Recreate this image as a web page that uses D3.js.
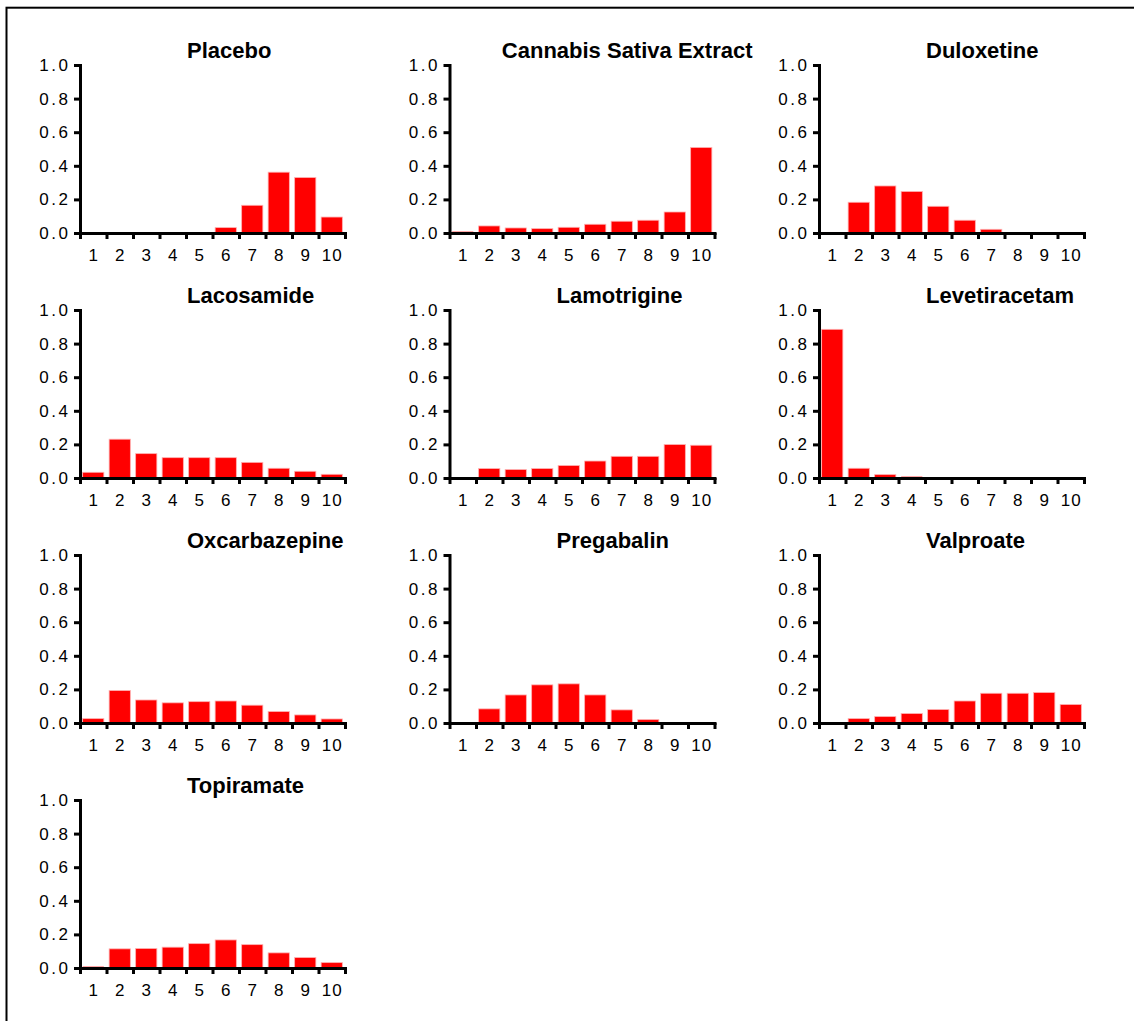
<!DOCTYPE html>
<html>
<head>
<meta charset="utf-8">
<script src="https://cdn.jsdelivr.net/npm/d3@7"></script>
<style>
  html, body { margin: 0; padding: 0; background: #fff; }
  svg { display: block; }
  text { font-family: "Liberation Sans", Arial, Helvetica, sans-serif; fill: #000; }
</style>
</head>
<body>
<script>
// Rating categories on the x axis and y-axis tick values
const scores = [1, 2, 3, 4, 5, 6, 7, 8, 9, 10];
const yTicks = [0, 0.2, 0.4, 0.6, 0.8, 1.0];

// Probability of each rank, one array per treatment
const placebo       = [0, 0, 0, 0, 0, 0.032, 0.165, 0.362, 0.330, 0.095];
const cannabis      = [0.008, 0.042, 0.030, 0.026, 0.034, 0.052, 0.070, 0.076, 0.125, 0.509];
const duloxetine    = [0.006, 0.183, 0.280, 0.247, 0.159, 0.076, 0.022, 0, 0, 0];
const lacosamide    = [0.034, 0.231, 0.145, 0.121, 0.121, 0.121, 0.093, 0.058, 0.040, 0.022];
const lamotrigine   = [0, 0.056, 0.050, 0.056, 0.074, 0.101, 0.129, 0.129, 0.199, 0.195];
const levetiracetam = [0.885, 0.058, 0.020, 0.008, 0.005, 0.002, 0, 0, 0, 0];
const oxcarbazepine = [0.026, 0.193, 0.137, 0.120, 0.127, 0.131, 0.106, 0.068, 0.048, 0.024];
const pregabalin    = [0, 0.084, 0.167, 0.227, 0.233, 0.167, 0.078, 0.020, 0, 0];
const valproate     = [0, 0.026, 0.038, 0.056, 0.080, 0.131, 0.177, 0.177, 0.181, 0.110];
const topiramate    = [0.008, 0.114, 0.116, 0.124, 0.145, 0.167, 0.139, 0.090, 0.062, 0.032];

const treatments = ["Placebo", "Cannabis Sativa Extract", "Duloxetine", "Lacosamide",
  "Lamotrigine", "Levetiracetam", "Oxcarbazepine", "Pregabalin", "Valproate", "Topiramate"];
const series = [placebo, cannabis, duloxetine, lacosamide, lamotrigine,
  levetiracetam, oxcarbazepine, pregabalin, valproate, topiramate];

// Grid layout
const W = 1134, H = 1021;
const nCols = 3;
const colX0 = 80, colStep = 369.5;   // x of each panel's y axis
const rowY0 = 65, rowStep = 245;     // y of each panel's top (value 1.0)
const plotW = 265, plotH = 168;
const titleOffset = 107, titleMaxRight = 303;

const svg = d3.select("body").append("svg")
  .attr("width", W).attr("height", H);

// outer frame
svg.append("rect")
  .attr("x", 6.5).attr("y", 7.7)
  .attr("width", 1400).attr("height", 1400)
  .attr("fill", "none").attr("stroke", "#000").attr("stroke-width", 2);

const y = d3.scaleLinear().domain([0, 1]).range([plotH, 0]);
const xBand = d3.scaleBand().domain(scores).range([0, plotW])
  .paddingInner(0.2).paddingOuter(0.1);
const xEdges = d3.scaleLinear().domain([0, scores.length]).range([0, plotW]);

treatments.forEach((name, i) => {
  const col = i % nCols, row = Math.floor(i / nCols);
  const gx = colX0 + col * colStep, gy = rowY0 + row * rowStep;
  const g = svg.append("g").attr("transform", `translate(${gx},${gy})`);
  const values = series[i];

  // bars
  g.selectAll("rect.bar").data(values).join("rect")
    .attr("class", "bar")
    .attr("x", (d, j) => xBand(scores[j]))
    .attr("width", xBand.bandwidth())
    .attr("y", d => y(d))
    .attr("height", d => plotH - y(d))
    .attr("fill", "#ff0000")
    .attr("stroke", d => d > 0.01 ? "#ffb0b0" : "none")
    .attr("stroke-width", 0.8);

  // y axis
  const yAxis = g.append("g")
    .call(d3.axisLeft(y).tickValues(yTicks).tickFormat(d3.format(".1f"))
      .tickSize(6).tickSizeOuter(0).tickPadding(3.5));
  yAxis.selectAll("text").attr("letter-spacing", 2.5);

  // x axis: tick marks on category boundaries
  const xAxisTicks = g.append("g").attr("transform", `translate(0,${plotH})`)
    .call(d3.axisBottom(xEdges).tickValues(d3.range(scores.length + 1))
      .tickFormat("").tickSize(6).tickSizeOuter(0));

  // x axis: category labels centred under the bars
  const xAxisLabels = g.append("g").attr("transform", `translate(0,${plotH})`)
    .call(d3.axisBottom(xBand).tickSize(0).tickPadding(16));
  xAxisLabels.select(".domain").remove();
  xAxisLabels.selectAll("text").attr("letter-spacing", 1.2).attr("dx", 0.6);

  [yAxis, xAxisTicks, xAxisLabels].forEach(a => {
    a.selectAll("text").attr("font-size", 17).attr("fill", "#000")
      .style("font-family", '"Liberation Sans", Arial, sans-serif');
    a.selectAll("line").attr("stroke", "#000").attr("stroke-width", 3);
    a.selectAll(".domain").attr("stroke", "#000").attr("stroke-width", 3)
      .attr("stroke-linecap", "square");
  });

  // panel title, kept within the panel's right edge
  const t = g.append("text")
    .attr("y", -7.5)
    .attr("font-size", 22).attr("font-weight", "bold")
    .text(name);
  const tw = t.node().getComputedTextLength();
  t.attr("x", Math.min(titleOffset, titleMaxRight - tw));
});
</script>
</body>
</html>
